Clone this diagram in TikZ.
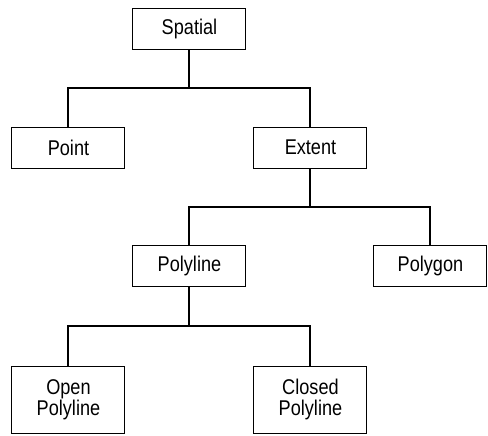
\documentclass[tikz,border=0pt]{standalone}
\usepackage{fontspec}
\setmainfont[FakeStretch=0.85]{Liberation Sans}
\usetikzlibrary{positioning,calc}

\begin{document}
\begin{tikzpicture}[node distance=89.25pt,
  box/.style={draw,line width=0.75pt,minimum width=84.75pt,minimum height=30.75pt,
    align=center,font=\fontsize{16}{16}\selectfont},
  tallbox/.style={box,minimum height=50.25pt},
  branch/.style={line width=1.5pt,
    to path={(\tikztostart.south) |- ($(\tikztostart.south)!0.5!(\tikztotarget.north)$)
      -| (\tikztotarget.north)}}]

\useasboundingbox (0,0) rectangle (366pt,-326.25pt);

\node[box]   (spatial)  at (142.1pt,-21.4pt)  {Spatial};
\node[box]   (point)    [below of=spatial, xshift=-90.75pt]  {Point};
\node[box]   (extent)   [below of=spatial, xshift=90.75pt]   {Extent};
\node[box]   (polyline) [below of=extent, xshift=-90.75pt, yshift=0.75pt]  {Polyline};
\node[box]   (polygon)  [right of=polyline, node distance=180.75pt]  {Polygon};
\node[tallbox] (open)   [below of=polyline, node distance=100.5pt, xshift=-90.75pt]  {Open\\Polyline};
\node[tallbox] (closed) [below of=polyline, node distance=100.5pt, xshift=90.75pt]   {Closed\\Polyline};

\path[branch] (spatial)  edge (point)
                         edge (extent)
              (extent)   edge (polyline)
                         edge (polygon)
              (polyline) edge (open)
                         edge (closed);

\end{tikzpicture}
\end{document}
